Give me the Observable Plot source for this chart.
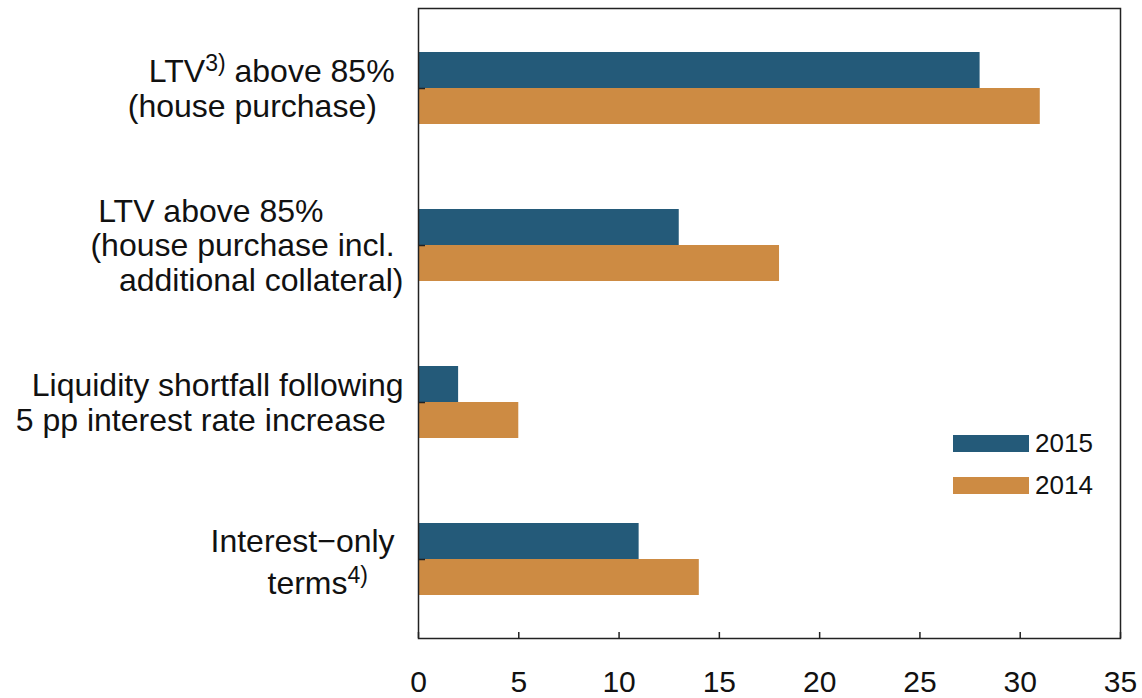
<!DOCTYPE html>
<html>
<head>
<meta charset="utf-8">
<script src="https://cdn.jsdelivr.net/npm/d3@7"></script>
<script src="https://cdn.jsdelivr.net/npm/@observablehq/plot@0.6"></script>
<style>
  body { margin: 0; background: #fff; }
  #wrap { position: relative; width: 1142px; height: 698px; font-family: "Liberation Sans", Arial, Helvetica, sans-serif; }
  .lg { position: absolute; display: flex; align-items: center; font-size: 26px; color: #111; }
  .lg span.sw { display: inline-block; width: 76px; height: 17px; margin-right: 6px; }
</style>
</head>
<body>
<div id="wrap"></div>
<script>
// ---- data ----
const categories = [
  "LTV above 85% (house purchase)",
  "LTV above 85% (house purchase incl. additional collateral)",
  "Liquidity shortfall following 5 pp interest rate increase",
  "Interest-only terms"
];
const NB = "\u00a0";
const categoryLabels = [
  ["LTV^{3)} above 85%" + NB, "(house purchase)" + NB.repeat(3)],
  ["LTV above 85%" + NB.repeat(9), "(house purchase incl." + NB, "additional collateral)"],
  ["Liquidity shortfall following", "5 pp interest rate increase" + NB.repeat(2)],
  ["Interest\u2212only" + NB, "terms^{4)}" + NB.repeat(4)]
];
const series = ["2015", "2014"];
const values2015 = [28, 13, 2, 11];
const values2014 = [31, 18, 5, 14];
const xTicks = [0, 5, 10, 15, 20, 25, 30, 35];
const colors = {"2015": "#245a79", "2014": "#cd8b43"};

const rows2015 = categories.map((c, i) => ({category: c, series: "2015", value: values2015[i]}));
const rows2014 = categories.map((c, i) => ({category: c, series: "2014", value: values2014[i]}));
const labelRows = categories.map((c, i) => ({category: c, label: categoryLabels[i].join("\n"), sup: /\^\{/.test(categoryLabels[i].slice(1).join(""))}));

const ink = "#222";
const labelStyle = {y: "category", text: "label", frameAnchor: "left", textAnchor: "end", dx: -15, fontSize: 32, fill: "#111"};

const chart = Plot.plot({
  width: 1142,
  height: 698,
  marginLeft: 418,
  marginRight: 22,
  marginTop: 8,
  marginBottom: 60,
  style: {fontFamily: "'Liberation Sans', Arial, Helvetica, sans-serif", color: "#111", background: "#fff"},
  x: {domain: [0, 35], axis: null},
  y: {domain: categories, paddingInner: 0.543, paddingOuter: 0.2715, axis: null},
  marks: [
    Plot.barX(rows2015, {y: "category", x: "value", fill: colors["2015"], insetBottom: 36}),
    Plot.barX(rows2014, {y: "category", x: "value", fill: colors["2014"], insetTop: 36}),
    Plot.frame({stroke: ink, strokeWidth: 1.5}),
    Plot.ruleX(xTicks, {x: d => d, insetTop: 624, stroke: ink, strokeWidth: 1.5}),
    Plot.ruleY(categories, {y: d => d, insetRight: 695, stroke: ink, strokeWidth: 1.5}),
    Plot.axisX(xTicks, {anchor: "bottom", tickSize: 0, tickPadding: 32, fontSize: 30, label: null, tickFormat: d => String(d)}),
    Plot.text(labelRows.filter(d => !d.sup), {...labelStyle, lineHeight: 1.07}),
    Plot.text(labelRows.filter(d => d.sup), {...labelStyle, lineHeight: 1.32})
  ]
});

// superscripts: turn "^{...}" into raised smaller tspans
const SVGNS = "http://www.w3.org/2000/svg";
chart.querySelectorAll("text tspan, text").forEach(el => {
  if (el.children.length) return;
  const t = el.textContent;
  if (!t.includes("^{")) return;
  el.textContent = "";
  const parts = t.split(/\^\{(.*?)\}/);
  let raised = false;
  parts.forEach((p, k) => {
    const ts = document.createElementNS(SVGNS, "tspan");
    ts.textContent = p;
    if (k % 2 === 1) {
      ts.setAttribute("font-size", "23");
      ts.setAttribute("dy", "-11");
      raised = true;
    } else if (raised) {
      ts.setAttribute("dy", "11");
      raised = false;
    }
    el.appendChild(ts);
  });
});

const wrap = document.getElementById("wrap");
wrap.appendChild(chart);

// legend inside the plot area
const legendTops = {"2015": 435, "2014": 477};
series.forEach(s => {
  const d = document.createElement("div");
  d.className = "lg";
  d.style.left = "953px";
  d.style.top = (legendTops[s] - 5) + "px";
  d.style.height = "27px";
  d.innerHTML = `<span class="sw" style="background:${colors[s]}"></span><span>${s}</span>`;
  wrap.appendChild(d);
});
</script>
</body>
</html>
